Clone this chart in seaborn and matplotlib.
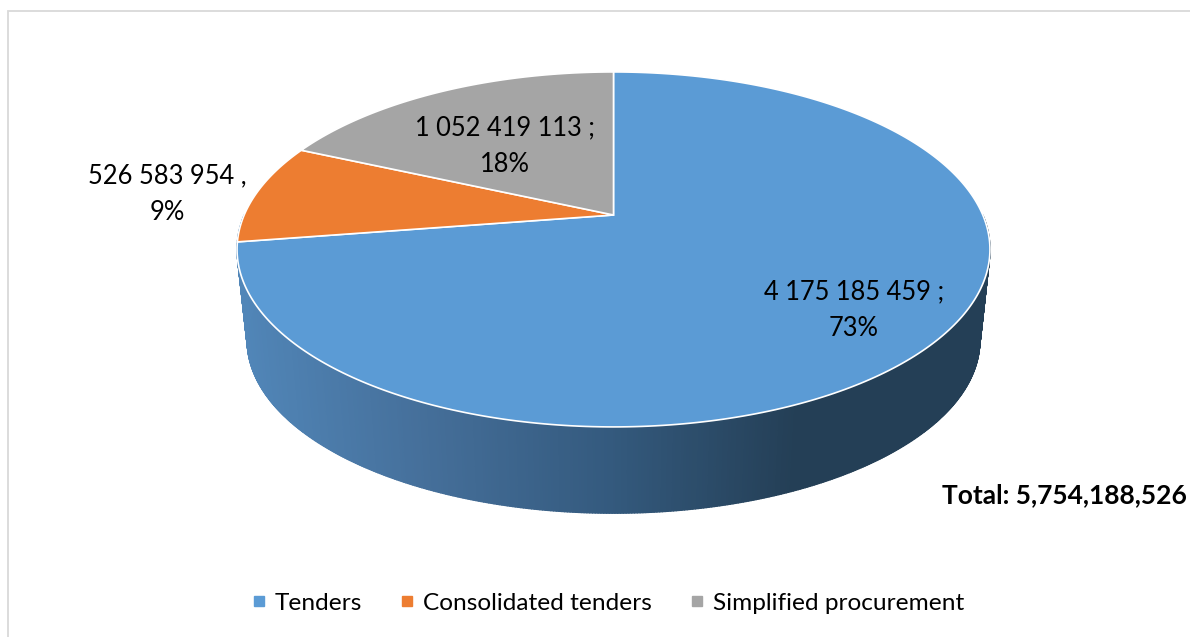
import numpy as np
import matplotlib
matplotlib.use('Agg')
import matplotlib.pyplot as plt
import seaborn as sns
from matplotlib.collections import PolyCollection
from matplotlib.lines import Line2D

categories = ['Tenders', 'Consolidated tenders', 'Simplified procurement']
values = [4175185459, 526583954, 1052419113]
value_labels = ['4 175 185 459 ;\n73%', '526 583 954 ,\n9%', '1 052 419 113 ;\n18%']
total_label = 'Total: 5,754,188,526'

colors = ['#5b9bd5', '#ed7d31', '#a5a5a5']
wall_colors = ['#5186b8', '#456f9a', '#345a7e', '#243f56', '#243f56']

sns.set_theme(style='white')
plt.rcParams['font.family'] = ['Lato', 'DejaVu Sans']

fig, ax = plt.subplots(figsize=(11.9, 6.37), dpi=100)
ax.set_position([0, 0, 1, 1])
ax.set_xlim(0, 1190)
ax.set_ylim(637, 0)
ax.axis('off')


# the tilted disc, angle is clockwise from the top
def project(angle, scale=1.0, drop=0.0):
    u = np.sin(angle)
    v = np.cos(angle)
    den = 1 + 0.194 * v
    x = 613.5 + scale * 369.3 * u / den
    y = 215 + drop - scale * 170.8 * v / den
    return x, y


# side wall, dark on the right
wall_angles = np.linspace(np.radians(90), np.radians(270), 500)
wall_cmap = sns.blend_palette(wall_colors, as_cmap=True)
polys = []
poly_colors = []
for a0, a1 in zip(wall_angles[:-1], wall_angles[1:]):
    x0, y0 = project(a0)
    x1, y1 = project(a1)
    x2, y2 = project(a1, 0.973, 92)
    x3, y3 = project(a0, 0.973, 92)
    polys.append([(x0, y0), (x1, y1), (x2, y2), (x3, y3)])
    poly_colors.append(wall_cmap(((x0 + x3) / 2 - 240) / 740))
ax.add_collection(PolyCollection(polys, facecolors=poly_colors, edgecolors=poly_colors, linewidths=1.0))

# top face
shares = np.array(values) / np.sum(values)
edges = np.concatenate([[0], np.cumsum(shares)]) * 2 * np.pi
for i, cat in enumerate(categories):
    ang = np.linspace(edges[i], edges[i + 1], 300)
    x, y = project(ang)
    ax.fill(np.r_[613.5, x], np.r_[215, y], facecolor=colors[i], edgecolor='white', linewidth=1.2, zorder=3)

# labels
label_pos = [(854, 310), (167, 194), (505, 146)]
for (lx, ly), txt in zip(label_pos, value_labels):
    ax.text(lx, ly, txt, ha='center', va='center', fontsize=18.4, color='black', linespacing=1.6, zorder=5)

ax.text(1187, 495, total_label, ha='right', va='center', fontsize=19, fontweight='bold', color='black', zorder=5)

# frame lines, only top and left are in the picture
ax.plot([8, 8, 1190], [637, 11, 11], color='#d9d9d9', lw=1.3, solid_joinstyle='miter')

handles = [Line2D([], [], linestyle='none', marker='s', markersize=6.5, color=c, label=cat)
           for c, cat in zip(colors, categories)]
ax.legend(handles=handles, ncol=3, loc='center', bbox_to_anchor=(608, 603),
          bbox_transform=ax.transData, frameon=False, fontsize=17.6,
          handlelength=0.55, handletextpad=0.35, columnspacing=1.6, labelcolor='black')

fig.savefig('out.png', dpi=100)
